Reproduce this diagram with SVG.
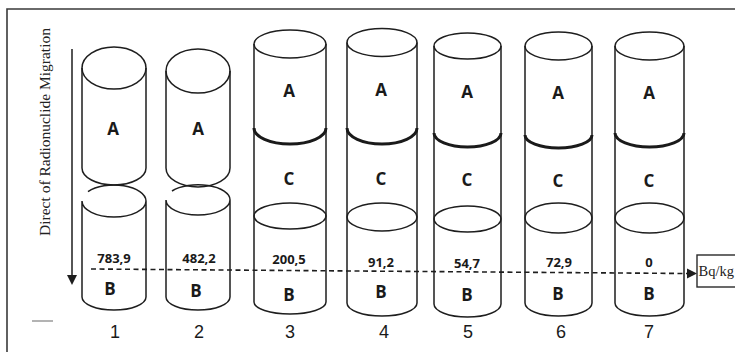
<svg xmlns="http://www.w3.org/2000/svg" width="735" height="352" viewBox="0 0 735 352">
  <style>
    .frame { fill: none; stroke: #3a3a3a; stroke-width: 1.6; }
    .cyl { fill: none; stroke: #1e1e1e; stroke-width: 1.5; }
    .seam { fill: none; stroke: #1a1a1a; stroke-width: 3; }
    .lbl { font-family: "Open Sans", "Liberation Sans", sans-serif; font-weight: 700; font-size: 17px; fill: #1a1a1a; text-anchor: middle; }
    .val { font-family: "Open Sans", "Liberation Sans", sans-serif; font-weight: 700; font-size: 13px; fill: #1a1a1a; text-anchor: middle; }
    .num { font-family: "Liberation Sans", Arial, sans-serif; font-size: 18px; fill: #1a1a1a; text-anchor: middle; }
    .serif { font-family: "Liberation Serif", "Times New Roman", serif; font-size: 15.5px; fill: #222222; }
    .dash { fill: none; stroke: #1e1e1e; stroke-width: 1.6; stroke-dasharray: 5 3.5; }
    .line { fill: none; stroke: #1e1e1e; stroke-width: 1.5; }
    .head { fill: #1e1e1e; }
  </style>

  <rect width="735" height="352" fill="#ffffff"/>

  <!-- outer frame (open at right and bottom) -->
  <path class="frame" d="M7,352 V9 H735"/>
  <line x1="32" y1="321" x2="53" y2="321" stroke="#9a9a9a" stroke-width="1.5"/>

  <!-- axis caption -->
  <text class="serif" transform="translate(50,132) rotate(-90)" text-anchor="middle">Direct of Radionuclide Migration</text>

  <g id="connectors">
    <!-- migration direction -->
    <line class="line" x1="72" y1="49" x2="72" y2="276"/>
    <polygon class="head" points="67,275 77,275 72,285"/>
    <!-- activity level line -->
    <line class="dash" x1="91" y1="269" x2="687" y2="273.5"/>
    <polygon class="head" points="687,268.5 697,273.5 687,278.5"/>
  </g>

  <!-- unit box -->
  <g id="unit">
    <rect x="697" y="255" width="50" height="32" fill="#ffffff" stroke="#2a2a2a" stroke-width="1.4"/>
    <text class="serif" x="698.5" y="276" style="font-size:14.5px">Bq/kg</text>
  </g>

  <!-- sample 1: separated A and B -->
  <g id="sample1">
    <ellipse class="cyl" cx="114" cy="68" rx="32" ry="21"/>
    <path class="cyl" d="M82,68 V168 A32,17 0 0 0 146,168 V68"/>
    <path class="cyl" d="M88,191.7 A32,16 0 0 1 146,201 A32,16 0 0 1 82,201 V297 A32,13 0 0 0 146,297 V201"/>
    <text class="lbl" x="113" y="135">A</text>
    <text class="val" x="114" y="263">783,9</text>
    <text class="lbl" x="110" y="295">B</text>
    <text class="num" x="115" y="338">1</text>
  </g>

  <!-- sample 2: separated A and B -->
  <g id="sample2">
    <ellipse class="cyl" cx="198" cy="71" rx="32" ry="22"/>
    <path class="cyl" d="M166,71 V168 A32,19 0 0 0 230,168 V71"/>
    <path class="cyl" d="M172,191 A32,15 0 0 1 230,200 A32,15 0 0 1 166,200 V297 A32,13 0 0 0 230,297 V200"/>
    <text class="lbl" x="198" y="135">A</text>
    <text class="val" x="199" y="263">482,2</text>
    <text class="lbl" x="196" y="297">B</text>
    <text class="num" x="199" y="338">2</text>
  </g>

  <!-- sample 3: A / C / B column -->
  <g id="sample3">
    <ellipse class="cyl" cx="290" cy="44" rx="36" ry="14"/>
    <path class="cyl" d="M254,44 V302 A36,12 0 0 0 326,302 V44"/>
    <path class="seam" d="M254,128 A36,16 0 0 0 326,128"/>
    <ellipse class="cyl" cx="290" cy="216" rx="36" ry="13"/>
    <text class="lbl" x="289" y="97">A</text>
    <text class="lbl" x="289" y="185">C</text>
    <text class="val" x="289" y="264">200,5</text>
    <text class="lbl" x="289" y="301">B</text>
    <text class="num" x="290" y="338">3</text>
  </g>

  <!-- sample 4 -->
  <g id="sample4">
    <ellipse class="cyl" cx="382" cy="42.5" rx="35" ry="14"/>
    <path class="cyl" d="M347,42.5 V303 A35,13 0 0 0 417,303 V42.5"/>
    <path class="seam" d="M347,128 A35,16 0 0 0 417,128"/>
    <ellipse class="cyl" cx="382" cy="217" rx="35" ry="14"/>
    <text class="lbl" x="381" y="96">A</text>
    <text class="lbl" x="381" y="185">C</text>
    <text class="val" x="381" y="267">91,2</text>
    <text class="lbl" x="381" y="298">B</text>
    <text class="num" x="384" y="338">4</text>
  </g>

  <!-- sample 5 -->
  <g id="sample5">
    <ellipse class="cyl" cx="467.5" cy="46" rx="33.5" ry="13"/>
    <path class="cyl" d="M434,46 V304 A33.5,13 0 0 0 501,304 V46"/>
    <path class="seam" d="M434,133 A33.5,14 0 0 0 501,133"/>
    <ellipse class="cyl" cx="467.5" cy="219" rx="33.5" ry="13"/>
    <text class="lbl" x="467" y="98">A</text>
    <text class="lbl" x="467" y="186">C</text>
    <text class="val" x="467" y="268">54,7</text>
    <text class="lbl" x="467" y="301">B</text>
    <text class="num" x="468" y="338">5</text>
  </g>

  <!-- sample 6 -->
  <g id="sample6">
    <ellipse class="cyl" cx="558.5" cy="46" rx="33.5" ry="14"/>
    <path class="cyl" d="M525,46 V303 A33.5,13 0 0 0 592,303 V46"/>
    <path class="seam" d="M525,135 A33.5,13 0 0 0 592,135"/>
    <ellipse class="cyl" cx="558.5" cy="218" rx="33.5" ry="15"/>
    <text class="lbl" x="558" y="99">A</text>
    <text class="lbl" x="558" y="187">C</text>
    <text class="val" x="559" y="267">72,9</text>
    <text class="lbl" x="558" y="300">B</text>
    <text class="num" x="561" y="338">6</text>
  </g>

  <!-- sample 7 -->
  <g id="sample7">
    <ellipse class="cyl" cx="649.5" cy="46" rx="34.5" ry="14"/>
    <path class="cyl" d="M615,46 V303 A34.5,13 0 0 0 684,303 V46"/>
    <path class="seam" d="M615,133 A34.5,14 0 0 0 684,133"/>
    <ellipse class="cyl" cx="649.5" cy="218" rx="34.5" ry="15"/>
    <text class="lbl" x="649" y="99">A</text>
    <text class="lbl" x="649" y="187">C</text>
    <text class="val" x="649" y="267">0</text>
    <text class="lbl" x="649" y="300">B</text>
    <text class="num" x="649" y="338">7</text>
  </g>
</svg>
